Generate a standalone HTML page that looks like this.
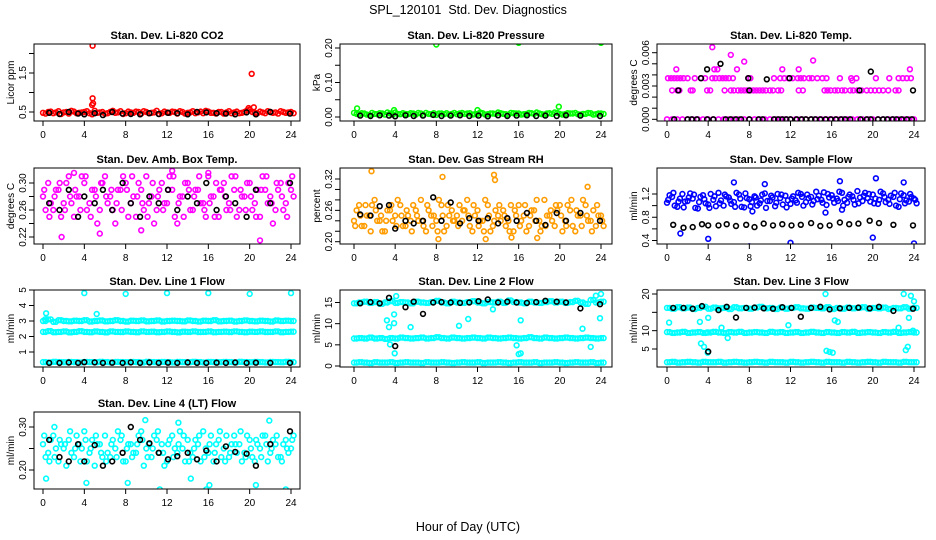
<!DOCTYPE html>
<html><head><meta charset="utf-8"><style>
html,body{margin:0;padding:0;background:#fff;}
svg{display:block;font-family:"Liberation Sans",Arial,sans-serif;}
</style></head><body>
<svg id="chart" width="936" height="540" viewBox="0 0 936 540">
<text x="468" y="14" text-anchor="middle" font-size="12.5" xml:space="preserve">SPL_120101&#160; Std. Dev. Diagnostics</text>
<text x="468" y="531" text-anchor="middle" font-size="12.5">Hour of Day (UTC)</text>
</svg>
<script>
// ---------- data ----------
const xTicks = [0,4,8,12,16,20,24];
const blackHours = [0.6,1.6,2.5,3.4,4.0,5.0,5.8,6.7,7.7,8.5,9.4,10.3,11.2,12.1,13.0,14.0,14.9,15.8,16.8,17.7,18.6,19.7,20.6,22.0,23.9];

// CO2
const co2Red1 = [0.48,0.50,0.47,0.52,0.49,0.46,0.51,0.48,0.50,0.47,0.53,0.49,0.46,0.50,0.48,0.52,0.47,0.49,0.51,0.46,0.50,0.48,0.53,0.47,0.49,0.51,0.46,0.50,0.48,0.52,0.49,0.47,0.51,0.48,0.50,0.46,0.52,0.49,0.47,0.50,0.56,0.48,0.51,0.47,0.50,0.49,0.52,0.48,0.50];
const co2Red2 = [0.46,0.51,0.49,0.45,0.50,0.53,0.47,0.49,0.52,0.44,0.48,0.50,0.47,0.53,0.49,0.45,0.51,0.48,0.50,0.52,0.47,0.49,0.45,0.51,0.48,0.50,0.52,0.46,0.49,0.47,0.51,0.53,0.48,0.46,0.50,0.49,0.47,0.51,0.48,0.54,0.50,0.47,0.49,0.52,0.48,0.46,0.50,0.49,0.47];
const co2Black = [0.48,0.45,0.50,0.46,0.44,0.47,0.42,0.50,0.46,0.45,0.44,0.47,0.45,0.48,0.47,0.44,0.50,0.49,0.47,0.46,0.44,0.49,0.44,0.50,0.46];
const co2Outliers = [[4.8,2.2],[4.8,0.85],[4.85,0.72],[4.75,0.68],[20.2,1.48],[19.9,0.6],[20.4,0.62]];

// Pressure
const presGreen1 = [0.012,0.008,0.010,0.006,0.009,0.011,0.007,0.010,0.013,0.008,0.009,0.011,0.007,0.010,0.012,0.008,0.006,0.010,0.011,0.009,0.008,0.012,0.010,0.007,0.009,0.011,0.008,0.010,0.013,0.009,0.007,0.011,0.010,0.008,0.012,0.009,0.010,0.007,0.011,0.013,0.009,0.008,0.010,0.012,0.007,0.009,0.011,0.008,0.010];
const presGreen2 = [0.009,0.011,0.007,0.012,0.008,0.010,0.013,0.007,0.009,0.011,0.008,0.010,0.012,0.006,0.009,0.011,0.010,0.008,0.007,0.012,0.010,0.009,0.011,0.008,0.013,0.007,0.010,0.009,0.011,0.008,0.012,0.010,0.007,0.009,0.011,0.013,0.008,0.010,0.009,0.012,0.007,0.011,0.010,0.008,0.009,0.012,0.007,0.010,0.009];
const presBlack = [0.004,0.003,0.005,0.004,0.002,0.005,0.003,0.004,0.006,0.003,0.004,0.005,0.003,0.004,0.002,0.005,0.003,0.004,0.005,0.003,0.004,0.003,0.005,0.004,0.003];
const presOutliers = [[8,0.21],[16,0.215],[24,0.215],[0.3,0.025],[3.9,0.02],[19.9,0.03],[12,0.02]];

// Li-820 Temp
const tempZeroHours = [0,0.5,1,1.5,2,2.5,3,3.5,4,4.5,5,5.5,6,6.5,7,7.5,8,8.5,9,9.5,10,10.5,11,11.5,12,12.5,13,13.5,14,14.5,15,15.5,16,16.5,17,17.5,18,18.5,19,19.5,20,20.5,21,21.5,22,22.5,23,23.5,24];
const temp26Hours = [0.5,1.0,1.2,2.3,2.5,3.9,4.2,5.6,6.2,6.5,6.9,7.2,7.5,7.8,8.1,8.4,8.7,9.0,9.3,9.6,10.0,10.3,10.8,11.1,12.8,13.2,15.3,15.6,15.9,16.3,16.6,17.0,17.3,17.8,18.1,18.5,18.9,19.4,19.8,20.2,20.6,21.0,21.5,22.2,22.5];
const temp37Hours = [0.1,0.4,0.7,1.0,1.3,1.6,2.0,2.7,3.3,3.7,4.4,4.7,5.1,5.4,5.7,6.0,6.4,7.9,8.1,10.4,11.0,11.4,11.8,12.2,12.7,13.0,13.3,13.8,14.1,14.6,15.1,15.5,16.8,17.9,18.4,20.3,21.6,22.5,22.9,23.3,23.7];
const tempExtra = [[0.9,0.0045],[4.4,0.0065],[4.6,0.0045],[4.9,0.0045],[6.2,0.0058],[6.8,0.0045],[7.5,0.0052],[11.2,0.0045],[12.8,0.0045],[14.2,0.0053],[18.0,0.0035],[23.6,0.0045]];
const tempBlackPts = [[1.1,0.0026],[3.3,0.0037],[3.9,0.0045],[5.2,0.0050],[7.9,0.0037],[8.0,0.0026],[9.7,0.0036],[11.9,0.0037],[18.7,0.0026],[19.8,0.0043],[23.9,0.0026]];
const tempBlackZeroHours = [0.7,2.0,2.4,2.9,3.9,4.5,5.7,6.2,6.7,7.2,8.0,8.9,9.3,10.4,10.8,11.2,11.6,12.0,12.6,13.1,13.5,14.0,14.4,14.9,15.4,15.9,16.4,16.9,17.3,17.8,18.8,19.4,19.8,20.5,21.0,21.4,21.9,22.3,22.8,23.3,23.8];

// Amb Box Temp
const ambMag1 = [0.28,0.30,0.26,0.29,0.27,0.31,0.25,0.28,0.30,0.27,0.29,0.26,0.31,0.28,0.24,0.29,0.30,0.27,0.25,0.29,0.31,0.28,0.26,0.30,0.27,0.29,0.24,0.28,0.30,0.26,0.29,0.27,0.31,0.28,0.25,0.30,0.27,0.29,0.26,0.28,0.30,0.27,0.25,0.29,0.28,0.26,0.30,0.27,0.29];
const ambMag2 = [0.26,0.27,0.29,0.25,0.30,0.27,0.28,0.31,0.26,0.29,0.24,0.30,0.27,0.26,0.29,0.31,0.25,0.28,0.30,0.26,0.27,0.24,0.29,0.27,0.31,0.25,0.28,0.30,0.26,0.29,0.27,0.25,0.28,0.30,0.29,0.26,0.31,0.25,0.28,0.30,0.26,0.29,0.31,0.27,0.24,0.29,0.26,0.30,0.28];
const ambMag3 = [0.29,0.25,0.28,0.30,0.26,0.28,0.29,0.26,0.31,0.25,0.28,0.30,0.28,0.29,0.27,0.26,0.29,0.31,0.28,0.27,0.25,0.30,0.28,0.26,0.29,0.31,0.27,0.25,0.29,0.28,0.31,0.26,0.27,0.25,0.29,0.28,0.26,0.31,0.29,0.26,0.28,0.25,0.29,0.31,0.27,0.30,0.28,0.25,0.31];
const ambBlack = [0.27,0.26,0.29,0.25,0.28,0.27,0.29,0.26,0.30,0.27,0.25,0.28,0.27,0.29,0.26,0.28,0.27,0.30,0.26,0.28,0.27,0.25,0.29,0.27,0.30];
const ambOutliers = [[1.8,0.22],[5.5,0.225],[9.5,0.23],[21.0,0.215],[3.0,0.315],[16.0,0.315],[12.5,0.318]];

// Gas Stream RH
const rhOr1 = [0.24,0.27,0.23,0.25,0.28,0.24,0.22,0.26,0.25,0.27,0.23,0.24,0.26,0.28,0.22,0.25,0.24,0.27,0.23,0.26,0.25,0.24,0.28,0.22,0.26,0.24,0.27,0.23,0.25,0.26,0.24,0.22,0.27,0.25,0.23,0.26,0.24,0.28,0.25,0.23,0.27,0.24,0.26,0.22,0.25,0.27,0.24,0.23,0.25];
const rhOr2 = [0.26,0.23,0.25,0.27,0.24,0.22,0.26,0.24,0.28,0.23,0.25,0.27,0.24,0.23,0.26,0.25,0.28,0.22,0.25,0.24,0.27,0.26,0.23,0.25,0.24,0.28,0.22,0.26,0.24,0.23,0.27,0.25,0.24,0.22,0.26,0.28,0.23,0.25,0.24,0.26,0.22,0.27,0.23,0.25,0.28,0.24,0.26,0.25,0.23];
const rhOr3 = [0.23,0.25,0.27,0.22,0.26,0.25,0.24,0.27,0.23,0.25,0.26,0.22,0.25,0.24,0.27,0.23,0.22,0.25,0.27,0.24,0.23,0.26,0.25,0.27,0.23,0.22,0.25,0.24,0.27,0.25,0.22,0.26,0.23,0.27,0.25,0.24,0.22,0.23,0.26,0.27,0.25,0.23,0.28,0.26,0.23,0.25,0.22,0.27,0.24];
const rhBlack = [0.252,0.25,0.268,0.27,0.225,0.24,0.235,0.24,0.285,0.24,0.275,0.235,0.245,0.24,0.245,0.235,0.245,0.24,0.255,0.24,0.232,0.255,0.24,0.255,0.24];
const rhOutliers = [[1.7,0.335],[8.6,0.324],[13.6,0.328],[13.7,0.318],[22.7,0.305],[8.2,0.205],[12.8,0.205],[17.8,0.207],[15.3,0.208]];

// Sample Flow
const flowBlue1 = [1.05,1.15,0.98,1.20,1.08,1.12,0.95,1.18,1.02,1.10,1.22,1.00,1.14,1.06,1.19,0.97,1.11,1.16,1.04,1.21,1.08,0.99,1.13,1.17,1.03,1.09,1.20,1.06,1.15,1.24,1.10,1.01,1.18,1.12,1.22,1.05,1.16,1.25,1.08,1.13,1.19,1.03,1.21,1.10,1.15,0.98,1.18,1.07,1.12];
const flowBlue2 = [1.18,1.00,1.12,1.07,1.21,0.96,1.15,1.04,1.20,0.99,1.09,1.16,1.03,1.22,0.98,1.13,1.06,1.00,1.19,1.08,1.14,1.20,1.02,1.09,1.16,1.22,1.00,1.13,1.08,1.17,1.23,1.14,1.05,1.24,1.10,1.19,1.02,1.14,1.22,1.07,1.12,1.24,1.06,1.17,1.00,1.21,1.09,1.15,1.04];
const flowBlue3 = [1.10,1.22,1.07,0.97,1.14,1.19,1.06,1.11,0.96,1.16,1.04,1.19,1.09,0.98,1.12,1.21,0.99,1.14,1.09,0.96,1.17,1.05,1.19,0.97,1.12,1.05,1.15,1.19,1.02,1.11,1.05,1.20,1.12,1.08,1.00,1.15,1.10,1.04,1.17,1.20,1.04,1.10,1.15,1.03,1.22,1.11,1.04,1.20,1.10];
const flowBlack = [0.67,0.62,0.63,0.68,0.66,0.66,0.68,0.65,0.67,0.63,0.69,0.66,0.68,0.66,0.67,0.70,0.65,0.66,0.71,0.68,0.69,0.74,0.70,0.67,0.66];
const flowOutliers = [[1.3,0.52],[4,0.43],[8,0.3],[12,0.36],[16,0.28],[20,0.45],[24,0.35],[6.5,1.4],[16.8,1.42],[20.3,1.47],[23,1.4],[9.5,1.37],[15.4,0.88],[17.0,0.93],[8.3,0.9]];

// Line 1 Flow
const l1Top = [3.0,3.1,2.95,3.05,3.0,2.98,3.02,3.0,3.05,2.97,3.0,3.03,2.98,3.0,3.05,3.0,2.96,3.02,3.0,3.04,2.98,3.0,3.03,2.97,3.0,3.02,3.0,2.98,3.04,3.0,2.97,3.02,3.0,3.05,2.98,3.0,3.02,2.97,3.0,3.04,3.0,2.98,3.02,3.0,2.97,3.03,3.0,3.02,3.0];
const l1Mid = [2.3,2.35,2.28,2.3,2.33,2.27,2.3,2.34,2.3,2.28,2.32,2.3,2.27,2.33,2.3,2.29,2.32,2.3,2.28,2.33,2.3,2.31,2.28,2.3,2.32,2.3,2.27,2.31,2.3,2.33,2.29,2.3,2.32,2.28,2.3,2.31,2.29,2.33,2.3,2.28,2.31,2.3,2.32,2.29,2.3,2.33,2.28,2.3,2.31];
const l1Low = [0.35,0.33,0.37,0.35,0.34,0.36,0.35,0.33,0.36,0.35,0.34,0.37,0.35,0.33,0.36,0.35,0.34,0.36,0.35,0.33,0.37,0.35,0.34,0.36,0.35,0.33,0.36,0.35,0.34,0.37,0.35,0.33,0.36,0.35,0.34,0.36,0.35,0.33,0.37,0.35,0.34,0.36,0.35,0.33,0.36,0.35,0.34,0.37,0.35];
const l1Black = [0.3,0.3,0.32,0.3,0.34,0.33,0.3,0.31,0.3,0.33,0.3,0.32,0.3,0.31,0.3,0.32,0.3,0.3,0.31,0.3,0.32,0.3,0.31,0.3,0.3];
const l1Outliers = [[4,4.8],[8,4.75],[12,4.8],[16,4.8],[20,4.75],[24,4.8],[0.3,3.5],[5.2,3.45],[0.2,3.1]];

// Line 2 Flow
const l2Top = [14.8,15.0,15.2,14.9,15.1,14.7,15.0,15.3,14.9,15.1,15.0,14.8,15.2,15.0,14.9,15.1,15.4,15.0,14.8,15.2,15.0,14.9,15.1,15.3,15.0,14.8,15.1,15.0,15.2,14.9,15.5,15.1,15.0,14.8,15.2,15.0,14.9,15.1,15.3,15.0,15.2,14.9,15.1,15.4,15.0,14.7,15.6,15.0,15.2];
const l2Mid = [6.5,6.6,6.5,6.7,6.5,6.6,6.4,6.6,6.5,6.7,6.6,6.5,6.6,6.7,6.5,6.6,6.8,6.6,6.5,6.7,6.6,6.5,6.6,6.7,6.6,6.5,6.7,6.6,6.5,6.6,6.7,6.6,6.5,6.6,6.8,6.6,6.5,6.7,6.6,6.5,6.6,6.7,6.6,6.5,6.6,6.7,6.6,6.5,6.6];
const l2Low = [0.8,0.9,0.8,0.7,0.9,0.8,0.8,0.9,0.7,0.8,0.9,0.8,0.8,0.7,0.9,0.8,0.8,0.9,0.8,0.7,0.8,0.9,0.8,0.8,0.9,0.7,0.8,0.8,0.9,0.8,0.7,0.8,0.9,0.8,0.8,0.9,0.7,0.8,0.8,0.9,0.8,0.7,0.8,0.9,0.8,0.8,0.9,0.7,0.8];
const l2Black = [14.8,15.1,14.8,16.1,4.7,13.9,15.2,12.3,15.0,15.1,15.0,14.9,15.0,15.3,15.7,15.0,15.2,15.0,14.9,15.1,15.4,15.2,15.0,13.6,14.6];
const l2Outliers = [[3.9,10.1],[3.9,12.2],[3.95,3.0],[16.2,3.0],[3.4,9.2],[3.2,10.8],[3.5,5.1],[5.5,9.2],[10.2,9.5],[15.8,4.9],[16.0,2.8],[16.2,10.8],[22.2,8.8],[23.0,4.5],[23.9,11.3],[23.5,16.6],[24,17.0],[4.1,16.5],[11.1,11.1],[13.5,13.4]];

// Line 3 Flow
const l3Top = [16.2,16.0,16.4,16.1,16.3,15.9,16.2,16.5,16.0,16.3,16.1,16.2,15.9,16.4,16.1,16.2,16.0,16.3,16.5,16.1,16.2,15.9,16.3,16.0,16.2,16.4,16.1,16.0,16.3,16.2,16.1,16.4,15.9,16.2,16.0,16.3,16.1,16.2,16.4,16.0,16.2,16.1,16.3,15.9,16.2,16.1,16.4,16.0,16.2];
const l3Mid = [9.6,9.4,9.5,9.7,9.4,9.5,9.6,9.4,9.5,9.7,9.5,9.4,9.6,9.5,9.7,9.4,9.5,9.6,9.5,9.4,9.7,9.5,9.6,9.4,9.5,9.6,9.4,9.5,9.7,9.5,9.4,9.6,9.5,9.4,9.6,9.5,9.7,9.4,9.5,9.6,9.5,9.4,9.6,9.5,9.7,9.4,9.5,9.6,9.5];
const l3Low = [1.4,1.5,1.3,1.4,1.5,1.4,1.3,1.5,1.4,1.4,1.5,1.3,1.4,1.5,1.4,1.3,1.4,1.5,1.4,1.3,1.5,1.4,1.4,1.3,1.5,1.4,1.3,1.4,1.5,1.4,1.3,1.5,1.4,1.4,1.3,1.5,1.4,1.3,1.4,1.5,1.4,1.3,1.5,1.4,1.4,1.3,1.5,1.4,1.4];
const l3Black = [16.2,16.2,16.0,16.7,4.3,15.6,16.5,13.6,16.2,16.3,16.1,16.0,16.4,16.2,13.8,16.2,16.5,15.8,16.1,16.2,16.3,16.1,16.5,15.4,16.0];
const l3Outliers = [[3.9,9.5],[3.95,4.0],[4.0,13.5],[16.1,4.0],[3.2,12.4],[0.2,12.2],[3.3,6.5],[3.6,5.6],[5.3,10.8],[5.9,8.0],[11.8,11.5],[15.5,4.5],[15.8,4.2],[16.3,12.8],[16.6,12.4],[15.4,20.0],[22.5,10.8],[23.0,20.0],[23.2,4.7],[23.4,5.6],[23.7,19.5],[24.0,18.0],[23.5,13.5],[23.9,10.0]];

// Line 4 (LT) Flow
const l4Cy1 = [0.26,0.24,0.28,0.22,0.25,0.27,0.23,0.26,0.29,0.24,0.21,0.26,0.28,0.23,0.25,0.27,0.22,0.26,0.24,0.29,0.25,0.23,0.27,0.26,0.22,0.28,0.24,0.25,0.27,0.23,0.26,0.29,0.24,0.22,0.27,0.25,0.23,0.28,0.26,0.24,0.27,0.22,0.25,0.28,0.24,0.26,0.23,0.27,0.25];
const l4Cy2 = [0.23,0.27,0.25,0.26,0.21,0.24,0.28,0.25,0.22,0.27,0.26,0.23,0.24,0.27,0.29,0.22,0.26,0.24,0.28,0.21,0.26,0.28,0.24,0.21,0.27,0.25,0.29,0.22,0.24,0.27,0.22,0.25,0.28,0.26,0.23,0.28,0.26,0.24,0.22,0.28,0.23,0.26,0.28,0.22,0.27,0.23,0.26,0.24,0.28];
const l4Cy3 = [0.28,0.22,0.23,0.27,0.26,0.29,0.25,0.22,0.27,0.25,0.28,0.24,0.22,0.26,0.23,0.28,0.25,0.23,0.26,0.27,0.23,0.25,0.29,0.24,0.26,0.23,0.26,0.28,0.22,0.25,0.28,0.23,0.26,0.24,0.29,0.22,0.24,0.26,0.29,0.23,0.25,0.27,0.23,0.26,0.25,0.28,0.22,0.25,0.27];
const l4Black = [0.27,0.23,0.22,0.26,0.22,0.258,0.21,0.22,0.24,0.30,0.27,0.262,0.24,0.225,0.232,0.24,0.225,0.245,0.22,0.255,0.242,0.238,0.21,0.26,0.29];
const l4Outliers = [[0.3,0.18],[1.1,0.30],[4.2,0.17],[9.9,0.316],[11.3,0.155],[13.1,0.31],[16.1,0.165],[15.8,0.155],[21.9,0.315],[23.5,0.155],[8.2,0.17],[20.6,0.165],[14.3,0.18]];

// ---------- geometry ----------
const cols = [{b0:34,b1:300,t0:43,t1:291},{b0:340,b1:612,t0:354,t1:601},{b0:657,b1:925,t0:667,t1:914}];
const rows = [{top:44,bot:121},{top:168,bot:244},{top:290,bot:367},{top:412,bot:489}];
const svg = document.getElementById('chart');
const NS = 'http://www.w3.org/2000/svg';
function mk(tag, attrs, parent){const e=document.createElementNS(NS,tag);for(const k in attrs)e.setAttribute(k,attrs[k]);(parent||svg).appendChild(e);return e;}
const halfHours = i => i*0.5;

function panel(c, r, name, title, ylab, cal, ticks, labels, fmt, series){
  const C = cols[c], R = rows[r];
  const g = mk('g', {});
  
  
  const xs = h => C.t0 + (C.t1 - C.t0) * h / 24;
  const ys = v => cal[1] + (v - cal[0]) * (cal[3] - cal[1]) / (cal[2] - cal[0]);
  const t = mk('text', {x:(C.b0+C.b1)/2, y:R.top-5, 'text-anchor':'middle', 'font-size':'11', 'font-weight':'bold'}, g);
  t.textContent = title;
  
  
  const yl = mk('text', {x:0, y:0, 'text-anchor':'middle', 'font-size':'10', transform:`translate(${C.b0-20},${(R.top+R.bot)/2}) rotate(-90)`}, g);
  yl.textContent = ylab;
  
  
  const cid = 'clip-' + name;
  const cp = mk('clipPath', {id:cid}, g);
  mk('rect', {x:C.b0, y:R.top, width:C.b1-C.b0, height:R.bot-R.top}, cp);
  const pts = mk('g', {'clip-path':`url(#${cid})`}, g);
  
  
  for (const s of series){
    for (const [h, v] of s.pts){
      const m = mk('circle', {cx:xs(h).toFixed(1), cy:ys(v).toFixed(1), r:2.4, fill:'none', stroke:s.color, 'stroke-width':1.6}, pts);
      
      
    }
  }
  const box = mk('rect', {x:C.b0, y:R.top, width:C.b1-C.b0, height:R.bot-R.top, fill:'none', stroke:'#000', 'stroke-width':1}, g);
  
  
  for (const h of xTicks){
    const x = xs(h);
    mk('line', {x1:x, x2:x, y1:R.bot, y2:R.bot+5, stroke:'#000'}, g);
    const lt = mk('text', {x:x, y:R.bot+17, 'text-anchor':'middle', 'font-size':'10'}, g);
    lt.textContent = h;
    
    
  }
  for (const v of ticks){
    const y = ys(v);
    mk('line', {x1:C.b0-5, x2:C.b0, y1:y, y2:y, stroke:'#000'}, g);
  }
  for (const v of labels){
    const y = ys(v);
    const lt = mk('text', {x:0, y:0, 'text-anchor':'middle', 'font-size':'10', transform:`translate(${C.b0-8},${y}) rotate(-90)`}, g);
    lt.textContent = v.toFixed(fmt);
    
    
  }
}
const grid = arr => arr.map((v,i)=>[halfHours(i), v]);
const gridOff = arr => arr.map((v,i)=>[halfHours(i)+0.25, v]);
const blk = arr => arr.map((v,i)=>[blackHours[i], v]);
const atLevel = (hours, v) => hours.map(h=>[h, v]);

panel(0,0,'co2','Stan. Dev. Li-820 CO2','Licor ppm',[0.5,112,1.5,73],[0.5,1.0,1.5,2.0],[0.5,1.5],1,[
  {key:'red',color:'#ff0000',pts:grid(co2Red1).concat(gridOff(co2Red2), co2Outliers)},
  {key:'black',color:'#000',pts:blk(co2Black)}]);
panel(1,0,'pressure','Stan. Dev. Li-820 Pressure','kPa',[0,117,0.2,48],[0,0.05,0.1,0.15,0.2],[0,0.1,0.2],2,[
  {key:'green',color:'#00ff00',pts:grid(presGreen1).concat(gridOff(presGreen2), presOutliers)},
  {key:'black',color:'#000',pts:blk(presBlack)}]);
panel(2,0,'li820-temp','Stan. Dev. Li-820 Temp.','degrees C',[0,119.3,0.006,52.7],[0,0.001,0.002,0.003,0.004,0.005,0.006],[0,0.003,0.006],3,[
  {key:'magenta',color:'#ff00ff',pts:atLevel(tempZeroHours,0).concat(atLevel(temp26Hours,0.0026), atLevel(temp37Hours,0.0037), tempExtra)},
  {key:'black',color:'#000',pts:atLevel(tempBlackZeroHours,0).concat(tempBlackPts)}]);
panel(0,1,'amb-box-temp','Stan. Dev. Amb. Box Temp.','degrees C',[0.22,237,0.30,183],[0.22,0.24,0.26,0.28,0.30],[0.22,0.26,0.30],2,[
  {key:'magenta',color:'#ff00ff',pts:grid(ambMag1).concat(gridOff(ambMag2), ambMag3.map((v,i)=>[halfHours(i)+0.12,v]), ambOutliers)},
  {key:'black',color:'#000',pts:blk(ambBlack)}]);
panel(1,1,'gas-rh','Stan. Dev. Gas Stream RH','percent',[0.20,241.7,0.32,179],[0.20,0.22,0.24,0.26,0.28,0.30,0.32],[0.20,0.26,0.32],2,[
  {key:'orange',color:'#ff9c00',pts:grid(rhOr1).concat(gridOff(rhOr2), rhOr3.map((v,i)=>[halfHours(i)+0.12,v]), rhOutliers)},
  {key:'black',color:'#000',pts:blk(rhBlack)}]);
panel(2,1,'sample-flow','Stan. Dev. Sample Flow','ml/min',[0.4,240.5,1.2,194],[0.4,0.6,0.8,1.0,1.2],[0.4,0.8,1.2],1,[
  {key:'blue',color:'#0000ff',pts:grid(flowBlue1).concat(gridOff(flowBlue2), flowBlue3.map((v,i)=>[halfHours(i)+0.12,v]), flowOutliers)},
  {key:'black',color:'#000',pts:blk(flowBlack)}]);
panel(0,2,'line1-flow','Stan. Dev. Line 1 Flow','ml/min',[1,352,5,290],[1,2,3,4,5],[1,2,3,4,5],0,[
  {key:'cyan',color:'#00ffff',pts:grid(l1Top).concat(gridOff(l1Top), grid(l1Mid), gridOff(l1Mid), grid(l1Low), gridOff(l1Low), l1Outliers)},
  {key:'black',color:'#000',pts:blk(l1Black)}]);
panel(1,2,'line2-flow','Stan. Dev. Line 2 Flow','ml/min',[0,366,15,302.5],[0,5,10,15],[0,5,10,15],0,[
  {key:'cyan',color:'#00ffff',pts:grid(l2Top).concat(gridOff(l2Top), grid(l2Mid), gridOff(l2Mid), grid(l2Low), gridOff(l2Low), l2Outliers)},
  {key:'black',color:'#000',pts:blk(l2Black)}]);
panel(2,2,'line3-flow','Stan. Dev. Line 3 Flow','ml/min',[5,349,20,294],[5,10,15,20],[5,10,20],0,[
  {key:'cyan',color:'#00ffff',pts:grid(l3Top).concat(gridOff(l3Top), grid(l3Mid), gridOff(l3Mid), grid(l3Low), gridOff(l3Low), l3Outliers)},
  {key:'black',color:'#000',pts:blk(l3Black)}]);
panel(0,3,'line4-flow','Stan. Dev. Line 4 (LT) Flow','ml/min',[0.20,470,0.30,427],[0.20,0.25,0.30],[0.20,0.30],2,[
  {key:'cyan',color:'#00ffff',pts:grid(l4Cy1).concat(gridOff(l4Cy2), l4Cy3.map((v,i)=>[halfHours(i)+0.12,v]), l4Outliers)},
  {key:'black',color:'#000',pts:blk(l4Black)}]);
</script>
</body></html>
